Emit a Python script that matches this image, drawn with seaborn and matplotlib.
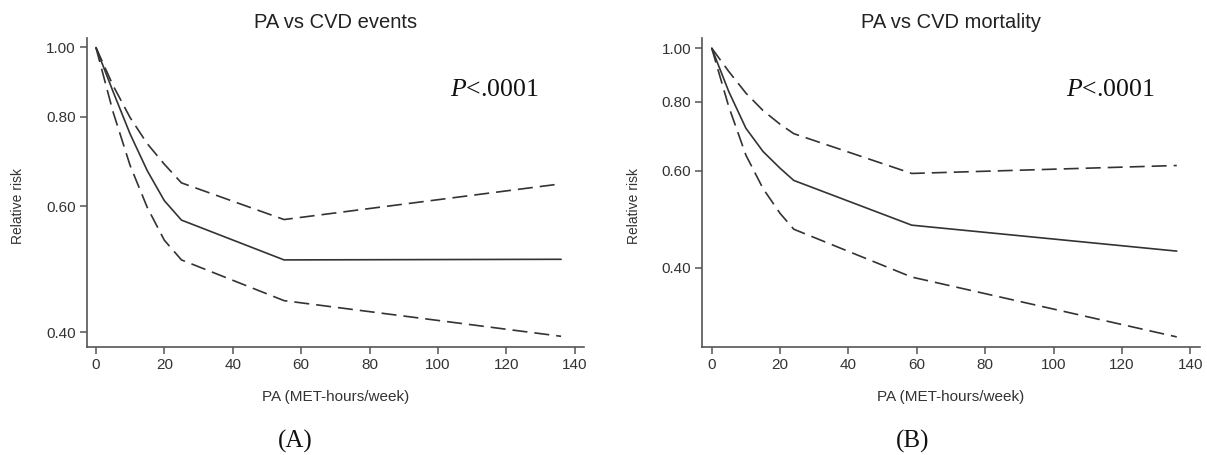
import matplotlib
matplotlib.use("Agg")
import matplotlib.pyplot as plt
import seaborn as sns
import numpy as np
import pandas as pd

# ---- data ----
pa_a = [0, 5, 10, 15, 20, 25, 55, 136]
rr_a = [1.0, 0.868, 0.757, 0.673, 0.611, 0.574, 0.505, 0.506]
upper_a = [1.0, 0.885, 0.798, 0.734, 0.687, 0.647, 0.575, 0.645]
lower_a = [1.0, 0.813, 0.684, 0.598, 0.538, 0.505, 0.443, 0.395]

pa_b = [0, 5, 10, 15, 20, 24, 58.5, 136]
rr_b = [1.0, 0.834, 0.716, 0.650, 0.606, 0.576, 0.478, 0.429]
upper_b = [1.0, 0.907, 0.829, 0.771, 0.728, 0.700, 0.593, 0.613]
lower_b = [1.0, 0.783, 0.640, 0.557, 0.502, 0.470, 0.385, 0.300]

titles = ["PA vs CVD events", "PA vs CVD mortality"]
panel_labels = ["(A)", "(B)"]
yticks = [0.40, 0.60, 0.80, 1.00]
xticks = [0, 20, 40, 60, 80, 100, 120, 140]
xlabel = "PA (MET-hours/week)"
ylabel = "Relative risk"
ptext = "$\\mathit{P}$<.0001"

sns.set_theme(style="ticks")
plt.rcParams['font.family'] = ['Liberation Sans', 'DejaVu Sans']
plt.rcParams['mathtext.fontset'] = 'custom'
plt.rcParams['mathtext.it'] = 'Liberation Serif:italic'
plt.rcParams['mathtext.rm'] = 'Liberation Serif'

W, H = 1207, 455
fig = plt.figure(figsize=(W / 100, H / 100), dpi=100)

line_col = "#333333"
axis_col = "#555555"
dash = (0, (9, 4.2))
LW = 1.2

panels = [
    dict(pa=pa_a, rr=rr_a, up=upper_a, lo=lower_a, rect=[86.7 / W, 1 - 346.7 / H, (584 - 86.7) / W, (346.7 - 38) / H],
         ylim=(0.382, 1.031), xlim=(-2.7, 142.7), pt_y=0.872, ylab_x=18, lab_x=58.2),
    dict(pa=pa_b, rr=rr_b, up=upper_b, lo=lower_b, rect=[702.3 / W, 1 - 346.7 / H, (1200 - 702.3) / W, (346.7 - 38) / H],
         ylim=(0.288, 1.043), xlim=(-2.75, 142.8), pt_y=0.84, ylab_x=634, lab_x=58.7),
]


def data_x_to_px(p, xv):
    return p["rect"][0] * W + (xv - p["xlim"][0]) / (p["xlim"][1] - p["xlim"][0]) * p["rect"][2] * W


for i, p in enumerate(panels):
    ax = fig.add_axes(p["rect"])
    df = pd.DataFrame({"pa": p["pa"], "rr": p["rr"], "up": p["up"], "lo": p["lo"]})
    sns.lineplot(data=df, x="pa", y="up", ax=ax, color=line_col, lw=LW, linestyle=dash)
    sns.lineplot(data=df, x="pa", y="rr", ax=ax, color=line_col, lw=LW)
    sns.lineplot(data=df, x="pa", y="lo", ax=ax, color=line_col, lw=LW, linestyle=dash)
    ax.set_yscale("log")
    ax.set_ylim(*p["ylim"])
    ax.set_xlim(*p["xlim"])
    ax.set_yticks(yticks)
    ax.set_yticklabels([f"{v:.2f}" for v in yticks])
    ax.yaxis.set_minor_locator(matplotlib.ticker.NullLocator())
    ax.set_xticks(xticks)
    ax.set_xticklabels([str(v) for v in xticks])
    ax.set_xlabel("")
    ax.set_ylabel("")
    for s in ["top", "right"]:
        ax.spines[s].set_visible(False)
    for s in ["left", "bottom"]:
        ax.spines[s].set_color(axis_col)
        ax.spines[s].set_linewidth(1.2)
    ax.tick_params(axis="both", colors=axis_col, labelcolor="#333333", labelsize=11,
                   length=5, width=1.1, direction="out", pad=3)
    ax.text(116.5, p["pt_y"], ptext, fontsize=18.5, family="Liberation Serif",
            ha="center", va="center", color="#111111")
    cx = data_x_to_px(p, 70)
    fig.text(cx / W, 1 - 23 / H, titles[i], ha="center", va="center", fontsize=14.5, color="#222222")
    fig.text(cx / W, 1 - 396.7 / H, xlabel, ha="center", va="center", fontsize=11, color="#333333")
    fig.text(p["ylab_x"] / W, 1 - 206 / H, ylabel, ha="center", va="center", rotation=90,
             fontsize=10, color="#333333")
    fig.text(data_x_to_px(p, p["lab_x"]) / W, 1 - 441.7 / H, panel_labels[i], ha="center", va="center",
             fontsize=18, family="Liberation Serif", color="#111111")

fig.savefig("out.png", dpi=100, facecolor="white")
